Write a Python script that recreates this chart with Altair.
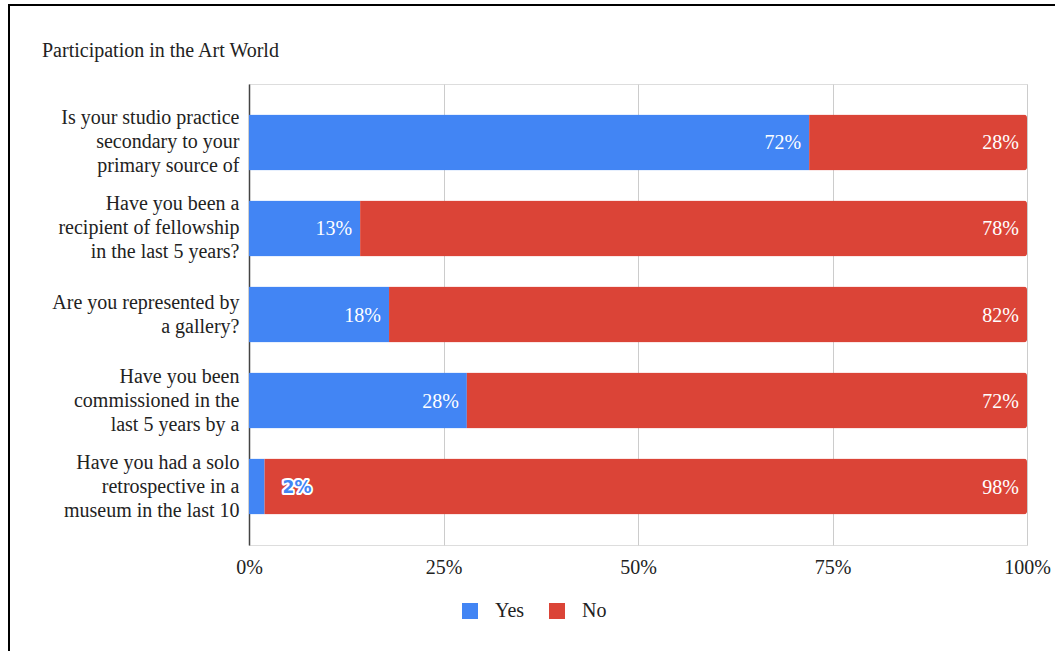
import altair as alt
import pandas as pd

title_text = "Participation in the Art World"
questions = [
    "Is your studio practice|secondary to your|primary source of",
    "Have you been a|recipient of fellowship|in the last 5 years?",
    "Are you represented by|a gallery?",
    "Have you been|commissioned in the|last 5 years by a",
    "Have you had a solo|retrospective in a|museum in the last 10",
]
yes_vals = [72, 13, 18, 28, 2]
no_vals = [28, 78, 82, 72, 98]
series = ["Yes", "No"]
colors = ["#4285F4", "#DB4437"]
tick_values = [0, 0.25, 0.5, 0.75, 1.0]

FONT = "Liberation Serif"
FS = 20

rows = []
labels = []
for q, y, n in zip(questions, yes_vals, no_vals):
    rows.append({"q": q, "resp": "Yes", "value": y, "ord": 0})
    rows.append({"q": q, "resp": "No", "value": n, "ord": 1})
    fy = y / (y + n)
    labels.append({"q": q, "text": f"{y}%", "pos": fy, "inside": fy >= 0.05})
    labels.append({"q": q, "text": f"{n}%", "pos": 1.0, "inside": True})
df = pd.DataFrame(rows)
lab = pd.DataFrame(labels)

xscale = alt.Scale(domain=[0, 1])
yenc = alt.Y(
    "q:N",
    sort=questions,
    scale=alt.Scale(paddingInner=0.35, paddingOuter=0.355),
    axis=alt.Axis(
        title=None,
        labelExpr="split(datum.label, '|')",
        labelFont=FONT,
        labelFontSize=FS,
        labelLineHeight=24,
        labelColor="#222222",
        labelPadding=10,
        labelLimit=300,
        labelOffset=alt.condition(
            "length(split(datum.label, '|')) == 3", alt.value(-24), alt.value(-12)
        ),
        ticks=False,
        domain=True,
        domainColor="#444444",
        domainWidth=1.5,
        grid=False,
    ),
)

bars = alt.Chart(df).mark_bar(cornerRadiusEnd=3).encode(
    x=alt.X(
        "value:Q",
        stack="normalize",
        scale=xscale,
        axis=alt.Axis(
            title=None,
            values=tick_values,
            format=".0%",
            grid=True,
            gridColor="#cccccc",
            domain=False,
            ticks=False,
            labelFont=FONT,
            labelFontSize=FS,
            labelColor="#222222",
            labelPadding=12,
            labelFlush=False,
            labelBound=False,
        ),
    ),
    y=yenc,
    color=alt.Color(
        "resp:N",
        scale=alt.Scale(domain=series, range=colors),
        legend=alt.Legend(
            title=None,
            orient="none",
            legendX=211,
            legendY=517,
            direction="horizontal",
            symbolType="square",
            symbolSize=256,
            symbolStrokeWidth=0,
            labelFont=FONT,
            labelFontSize=FS,
            labelColor="#222222",
            labelOffset=15,
            columnPadding=22,
            padding=0,
        ),
    ),
    order=alt.Order("ord:Q"),
)

inside = alt.Chart(lab).transform_filter("datum.inside").mark_text(
    align="right", baseline="middle", dx=-8, dy=1, color="white",
    font=FONT, fontSize=FS,
).encode(x=alt.X("pos:Q", scale=xscale), y=alt.Y("q:N", sort=questions), text="text:N")

outside_halo = alt.Chart(lab).transform_filter("!datum.inside").mark_text(
    align="left", baseline="middle", dx=18, dy=1, color="white", stroke="white",
    strokeWidth=4, strokeJoin="round", font="DejaVu Sans", fontSize=17, fontWeight="bold",
).encode(x=alt.X("pos:Q", scale=xscale), y=alt.Y("q:N", sort=questions), text="text:N")

outside = alt.Chart(lab).transform_filter("!datum.inside").mark_text(
    align="left", baseline="middle", dx=18, dy=1, color="#4285F4",
    font="DejaVu Sans", fontSize=17, fontWeight="bold",
).encode(x=alt.X("pos:Q", scale=xscale), y=alt.Y("q:N", sort=questions), text="text:N")

one = pd.DataFrame({"k": [0], "t": [title_text]})
title = alt.Chart(one).mark_text(
    align="left", baseline="alphabetic", font=FONT, fontSize=FS, color="#222222"
).encode(x=alt.value(-207), y=alt.value(-27), text="t:N")

border_v = alt.Chart(one).mark_rule(color="#000000", strokeWidth=2).encode(
    x=alt.value(-240), y=alt.value(-79), y2=alt.value(600)
)
border_h = alt.Chart(one).mark_rule(color="#000000", strokeWidth=2).encode(
    x=alt.value(-241), x2=alt.value(900), y=alt.value(-79)
)

chart = alt.layer(bars, inside, outside_halo, outside, title, border_v, border_h).properties(
    width=778,
    height=461,
    autosize=alt.AutoSizeParams(type="none"),
    padding={"left": 249, "top": 84, "right": 28, "bottom": 106},
).configure_view(stroke=None).configure(background="white")

chart.save("out.html", embed_options={"renderer": "svg", "actions": False})
